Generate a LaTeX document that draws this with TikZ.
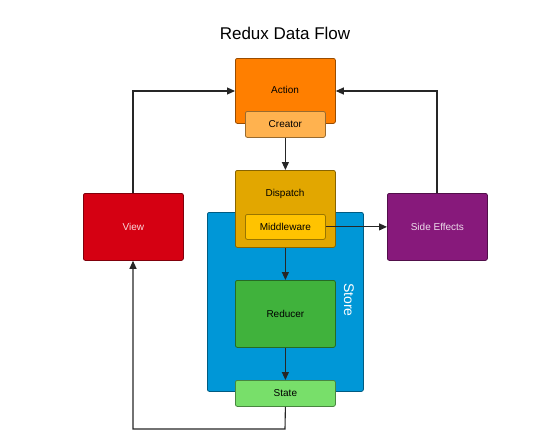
\documentclass[tikz,border=0pt]{standalone}
\usepackage{fontspec}
\setmainfont{Liberation Sans}
\usetikzlibrary{arrows.meta}
\definecolor{actionc}{HTML}{FF7F00}
\definecolor{creatorc}{HTML}{FFB24F}
\definecolor{dispatchc}{HTML}{E2A700}
\definecolor{middlec}{HTML}{FFC300}
\definecolor{storec}{HTML}{0097D7}
\definecolor{reducerc}{HTML}{40B23C}
\definecolor{statec}{HTML}{78DF6A}
\definecolor{viewc}{HTML}{D50012}
\definecolor{sidec}{HTML}{87197B}
\begin{document}
\begin{tikzpicture}[x=1pt,y=-1pt,
  box/.style={draw=#1!60!black, line width=0.8pt, rounded corners=2pt, inner sep=0pt, font=\fontsize{10}{12}\selectfont},
  conn/.style={draw=black!85, line width=1.1pt},
  arr/.style={conn, -{Triangle[length=8pt,width=7pt]}}]
\useasboundingbox (0,0) rectangle (560,437);
\node[font=\fontsize{17}{21}\selectfont] (title) at (285,33) {Redux Data Flow};
% store background
\node[box=storec, fill=storec, minimum width=156pt, minimum height=179pt, anchor=north west] (store) at (207,212) {};
\node[rotate=-90, text=white, font=\fontsize{14}{16}\selectfont] (storelbl) at (349,300) {Store};
% action
\node[box=actionc, fill=actionc, minimum width=100pt, minimum height=65pt, anchor=north west] (action) at (235,58) {};
\node (actionlbl) at (285,90) {\fontsize{10}{12}\selectfont Action};
\node[box=creatorc, fill=creatorc, minimum width=80pt, minimum height=26pt, anchor=north west] (creator) at (245,111) {Creator};
% dispatch
\node[box=dispatchc, fill=dispatchc, minimum width=100pt, minimum height=77pt, anchor=north west] (dispatch) at (235,170) {};
\node (dispatchlbl) at (285,194) {\fontsize{10}{12}\selectfont Dispatch};
\node[box=middlec, fill=middlec, minimum width=80pt, minimum height=25pt, anchor=north west] (middle) at (245,214) {Middleware};
% reducer, state
\node[box=reducerc, fill=reducerc, minimum width=100pt, minimum height=67pt, anchor=north west] (reducer) at (235,280) {Reducer};
\node[box=statec, fill=statec, minimum width=100pt, minimum height=26pt, anchor=north west] (state) at (235,380) {State};
% view, side effects
\node[box=viewc, fill=viewc, text=white!85!viewc, minimum width=100pt, minimum height=67pt, anchor=north west] (view) at (83,193) {View};
\node[box=sidec, fill=sidec, text=white!85!sidec, minimum width=100pt, minimum height=67pt, anchor=north west] (side) at (387,193) {Side Effects};
% connectors
\coordinate (c1) at (133,91);
\coordinate (c2) at (437,91);
\coordinate (c3) at (285,429);
\coordinate (c4) at (133,429);
\draw[arr] (creator.south) -- (dispatch.north);
\draw[arr] (dispatch.south) -- (reducer.north);
\draw[arr] (reducer.south) -- (state.north);
\draw[arr] (middle.east) -- (side.west);
\draw[arr] (view.north -| c1) -- (c1) -- (action.west |- c1);
\draw[arr] (side.north -| c2) -- (c2) -- (action.east |- c2);
\draw[arr] (state.south) -- (c3) -- (c4) -- (view.south -| c4);
\end{tikzpicture}
\end{document}
